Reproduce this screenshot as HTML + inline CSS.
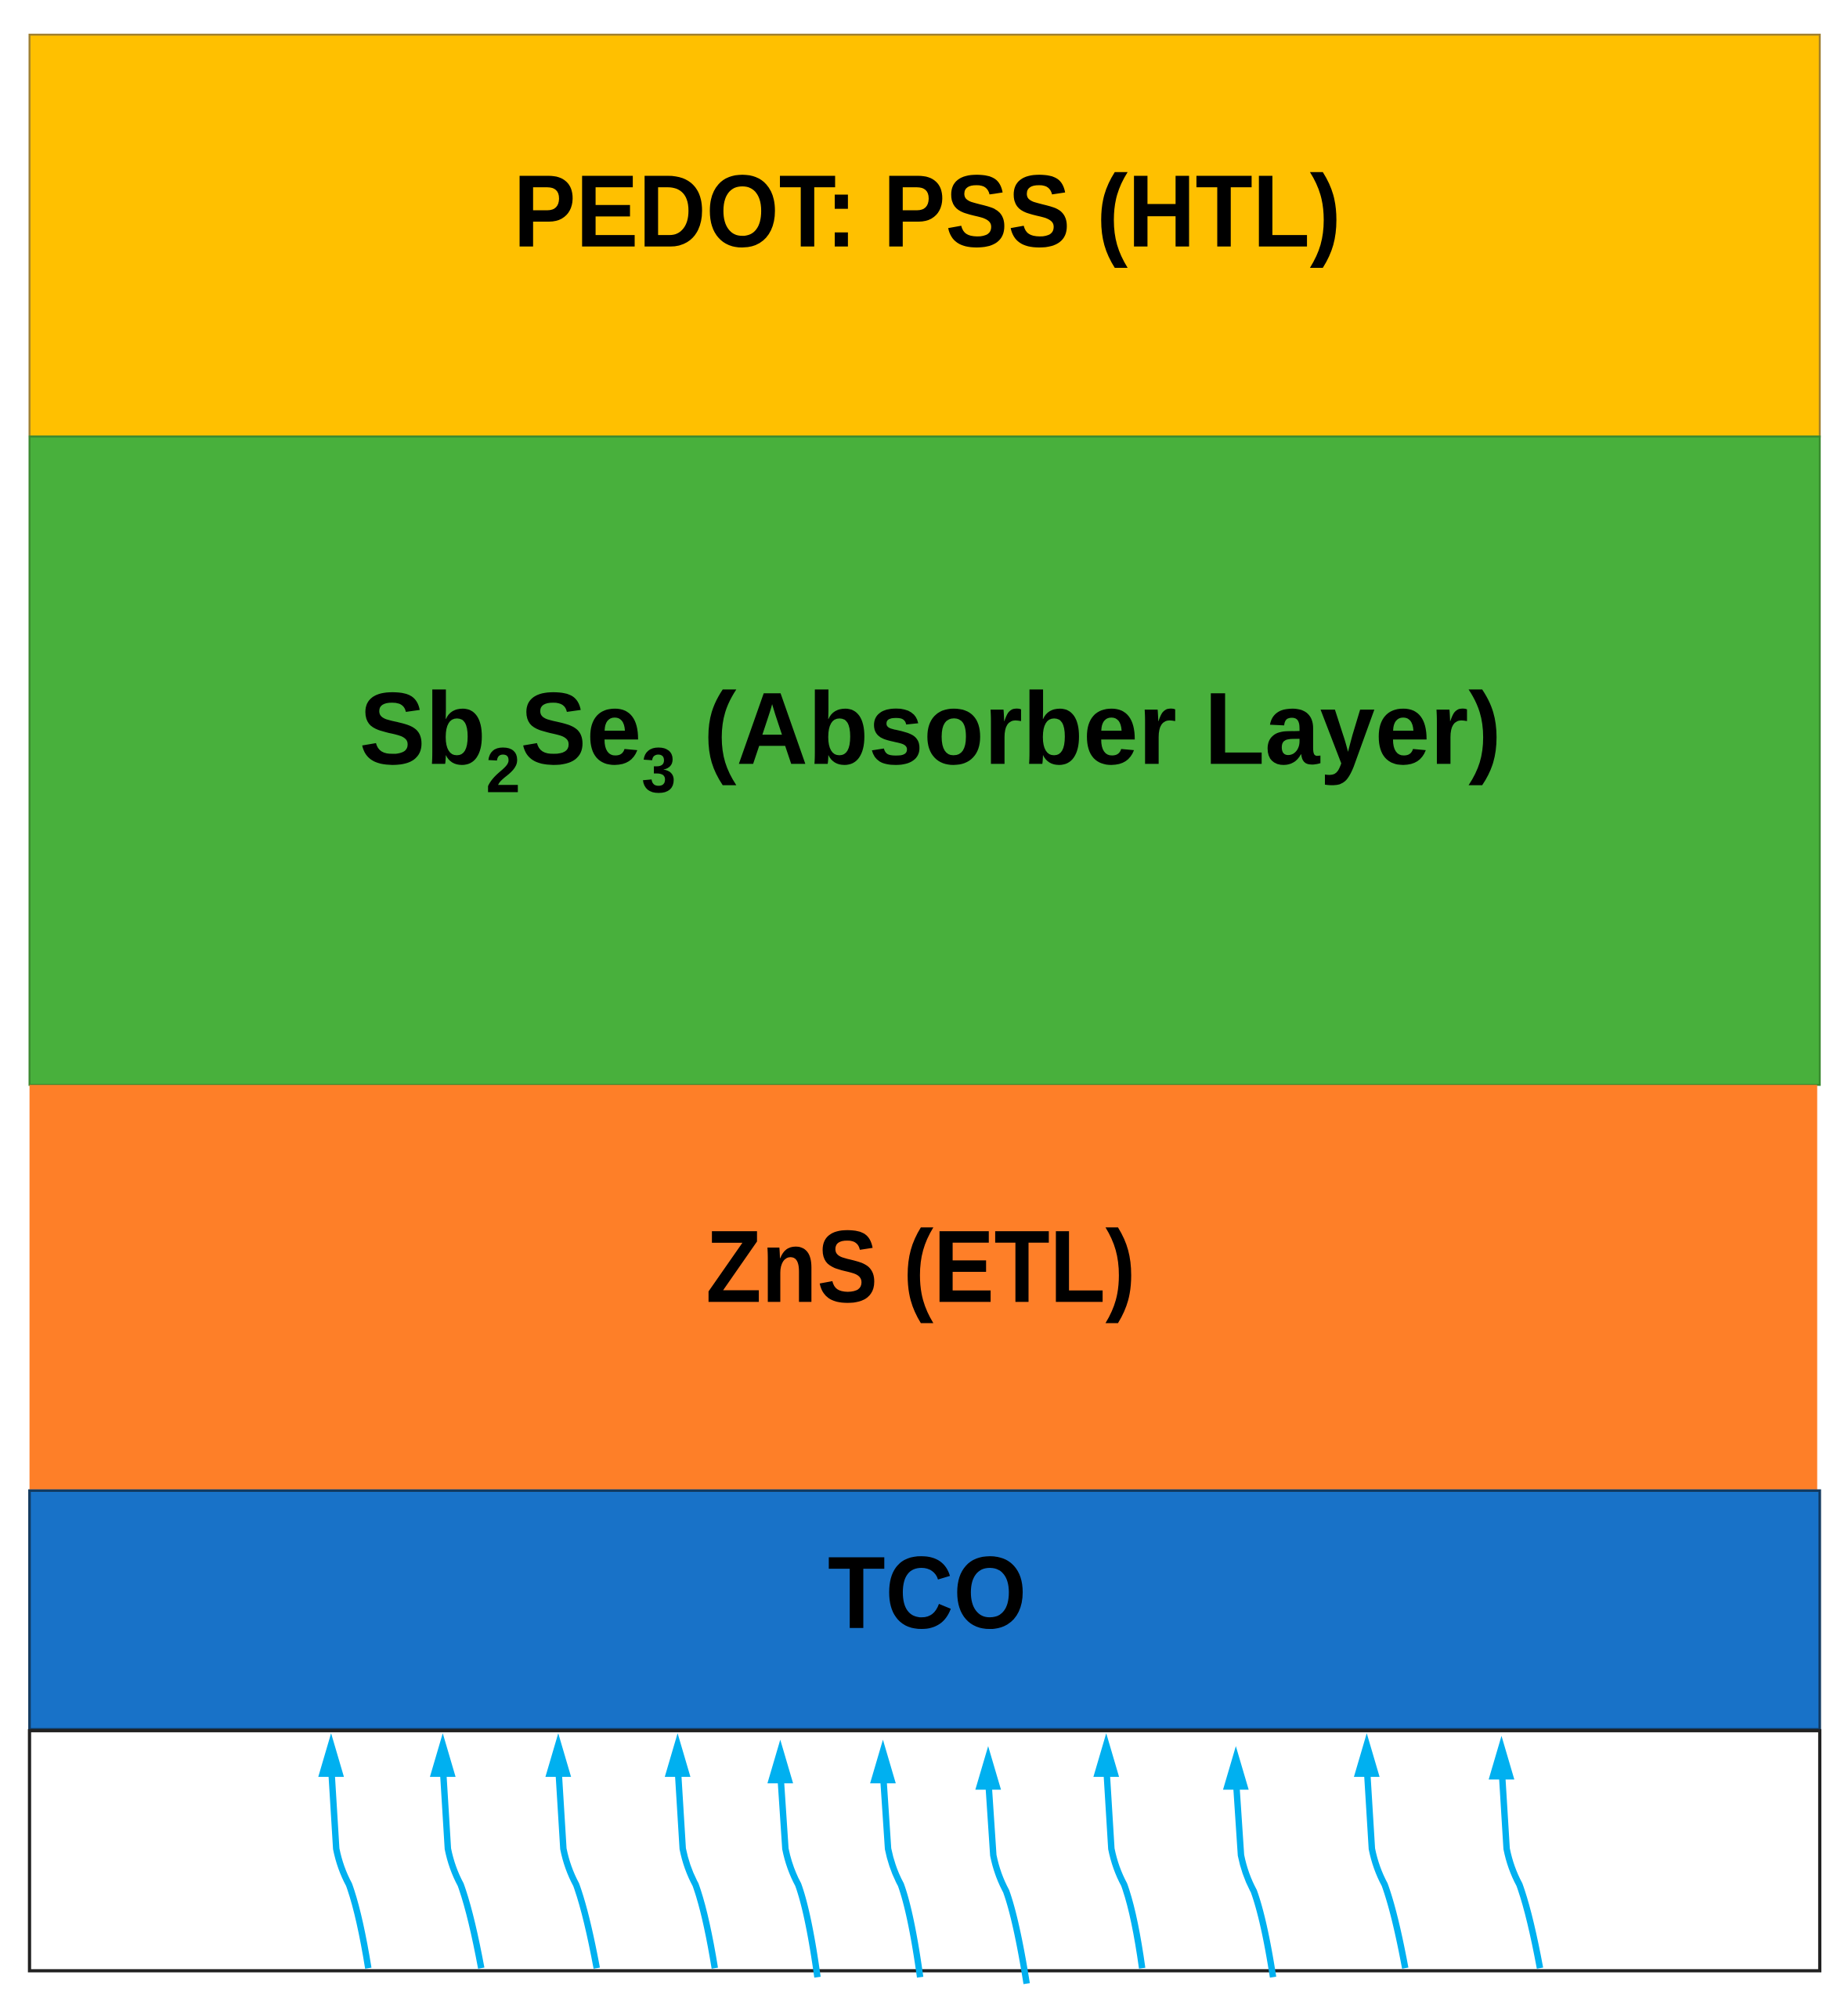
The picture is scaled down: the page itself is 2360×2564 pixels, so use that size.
<!DOCTYPE html>
<html><head><meta charset="utf-8"><style>html,body{margin:0;padding:0;background:#fff}svg{display:block}</style></head>
<body>
<svg width="2360" height="2564" viewBox="0 0 1440 1564" preserveAspectRatio="none" xmlns="http://www.w3.org/2000/svg">
<defs>
<marker id="ah" markerWidth="4" markerHeight="5" refX="2" refY="0.3" orient="auto-start-reverse" markerUnits="strokeWidth" viewBox="0 0 4 5">
</marker>
</defs>
<rect x="23" y="27" width="1395" height="313" fill="#ffc000" stroke="#a08030" stroke-width="1.5"/>
<rect x="23" y="340" width="1395" height="505" fill="#48b03c" stroke="#3a8a30" stroke-width="1.5"/>
<rect x="23" y="845" width="1393" height="315" fill="#fe7f28"/>
<rect x="23" y="1161" width="1395" height="186" fill="#1872c8" stroke="#123a60" stroke-width="2"/>
<rect x="23" y="1348" width="1395" height="187" fill="#fff" stroke="#222" stroke-width="2.5"/>
<g font-family="'Liberation Sans',sans-serif" font-weight="bold" fill="#000" text-anchor="start">
<text x="400" y="192" font-size="80" textLength="645" lengthAdjust="spacingAndGlyphs">PEDOT: PSS (HTL)</text>
<text x="280" y="595" font-size="80" textLength="890" lengthAdjust="spacingAndGlyphs">Sb<tspan font-size="50" dy="22">2</tspan><tspan dy="-22">Se</tspan><tspan font-size="50" dy="22">3</tspan><tspan dy="-22"> (Absorber Layer)</tspan></text>
<text x="550" y="1014" font-size="80" textLength="335" lengthAdjust="spacingAndGlyphs">ZnS (ETL)</text>
<text x="645" y="1268" font-size="80" textLength="155" lengthAdjust="spacingAndGlyphs">TCO</text>
</g>
<g stroke="#00b0f0" stroke-width="5" fill="none">
<path d="M258 1375 L262 1440 Q265 1455 272 1468 Q280 1490 287 1533"/>
<path d="M345 1375 L349 1440 Q352 1455 359 1468 Q367 1490 375 1533"/>
<path d="M435 1375 L439 1440 Q442 1455 449 1468 Q457 1490 465 1533"/>
<path d="M528 1375 L532 1440 Q535 1455 542 1468 Q550 1490 557 1533"/>
<path d="M608 1380 L612 1440 Q615 1455 622 1468 Q630 1490 637 1540"/>
<path d="M688 1380 L692 1440 Q695 1455 702 1468 Q710 1490 717 1540"/>
<path d="M770 1385 L774 1445 Q777 1460 784 1473 Q792 1495 800 1545"/>
<path d="M862 1375 L866 1440 Q869 1455 876 1468 Q884 1490 890 1533"/>
<path d="M963 1385 L967 1445 Q970 1460 977 1473 Q985 1495 992 1540"/>
<path d="M1065 1375 L1069 1440 Q1072 1455 1079 1468 Q1087 1490 1095 1533"/>
<path d="M1170 1375 L1174 1440 Q1177 1455 1184 1468 Q1192 1490 1200 1533"/>
</g>
<g fill="#00b0f0">
<polygon points="258,1350 248,1384 268,1384"/>
<polygon points="345,1350 335,1384 355,1384"/>
<polygon points="435,1350 425,1384 445,1384"/>
<polygon points="528,1350 518,1384 538,1384"/>
<polygon points="608,1355 598,1389 618,1389"/>
<polygon points="688,1355 678,1389 698,1389"/>
<polygon points="770,1360 760,1394 780,1394"/>
<polygon points="862,1350 852,1384 872,1384"/>
<polygon points="963,1360 953,1394 973,1394"/>
<polygon points="1065,1350 1055,1384 1075,1384"/>
<polygon points="1170,1352 1160,1386 1180,1386"/>
</g>
</svg>
</body></html>
